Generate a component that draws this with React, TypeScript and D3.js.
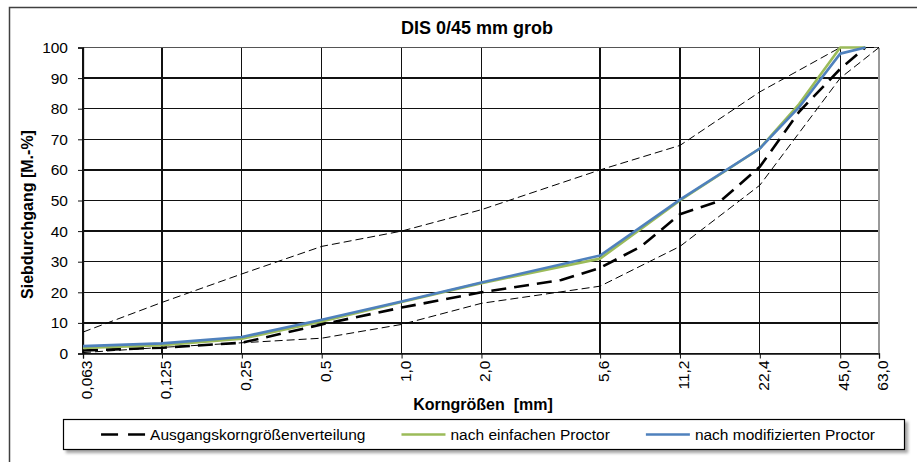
import React, { useEffect, useRef } from 'react';
import * as d3 from 'd3';

// sieve sizes [mm]
const sieves = [0.063, 0.125, 0.25, 0.5, 1, 2, 4, 5.6, 8, 11.2, 16, 22.4, 31.5, 45, 56, 63];
const xTickValues = [0.063, 0.125, 0.25, 0.5, 1, 2, 5.6, 11.2, 22.4, 45, 63];
const xTickLabels = ['0,063', '0,125', '0,25', '0,5', '1,0', '2,0', '5,6', '11,2', '22,4', '45,0', '63,0'];
const yTickValues = [0, 10, 20, 30, 40, 50, 60, 70, 80, 90, 100];

// passing [M.-%], null where the series has no value
const ausgang = [1, 1.9, 3.5, 9.5, 15, 20, 24, 28, 35, 45.5, 50, 61, 79, 93, 100, null];
const einfach = [1.8, 2.7, 4.8, 10.5, 16.8, 23, null, 31, null, 50, null, 67, 81.5, 100, 100, null];
const modifiziert = [2.4, 3.3, 5.4, 11, 17, 23.2, null, 32, null, 50.3, null, 67, 80.5, 98, 100, null];
const upperLimit = [7, 16.7, 26, 35, 40, 47, null, 60, null, 68, null, 85.5, null, 100, null, 100];
const lowerLimit = [0.3, 2, 3.5, 5, 9.5, 16.4, null, 22, null, 35, null, 55, null, 90, null, 100];

const legendNames = ['Ausgangskorngrößenverteilung', 'nach einfachen Proctor', 'nach modifizierten Proctor'];

const App: React.FC = () => {
  const svgRef = useRef<SVGSVGElement | null>(null);
  const width = 917;
  const height = 462;

  useEffect(() => {
    if (!svgRef.current) return;
    const svg = d3.select(svgRef.current);
    svg.selectAll('*').remove();

    const font = 'Liberation Sans, Arial, sans-serif';
    const plot = { left: 83, right: 879, top: 47.5, bottom: 353.5 };

    const x = d3.scaleLog().domain([0.063, 63]).range([plot.left, plot.right]);
    const y = d3.scaleLinear().domain([0, 100]).range([plot.bottom, plot.top]);

    svg.append('rect').attr('width', width).attr('height', height).attr('fill', '#fff');

    // outer chart frame (cut off at right and bottom)
    svg.append('rect')
      .attr('x', 9.5).attr('y', 7.5)
      .attr('width', 930).attr('height', 480)
      .attr('fill', 'none').attr('stroke', '#404040').attr('stroke-width', 1.5);

    // title
    svg.append('text')
      .attr('x', 477).attr('y', 34)
      .attr('text-anchor', 'middle')
      .style('font-family', font).style('font-size', '18px').style('font-weight', 'bold')
      .text('DIS 0/45 mm grob');

    // grid
    const grid = svg.append('g').attr('shape-rendering', 'crispEdges');
    grid.selectAll('.hgrid')
      .data(yTickValues)
      .enter()
      .append('line')
      .attr('x1', plot.left).attr('x2', plot.right)
      .attr('y1', d => y(d)).attr('y2', d => y(d))
      .attr('stroke', d => (d === 100 ? '#555' : '#111')).attr('stroke-width', 1.3);
    grid.selectAll('.vgrid')
      .data(xTickValues)
      .enter()
      .append('line')
      .attr('x1', d => x(d)).attr('x2', d => x(d))
      .attr('y1', plot.top).attr('y2', plot.bottom)
      .attr('stroke', d => (d === 63 ? '#999' : '#111')).attr('stroke-width', d => (d === 63 ? 1.6 : 1.3));

    // axes with ticks
    const yAxis = svg.append('g')
      .attr('transform', `translate(${plot.left},0)`)
      .call(d3.axisLeft(y).tickValues(yTickValues).tickSize(5).tickPadding(10));
    yAxis.select('.domain').attr('stroke', '#111').attr('stroke-width', 1.3);
    yAxis.selectAll('line').attr('stroke', '#111');
    yAxis.selectAll('text')
      .style('font-family', font).style('font-size', '15.5px').attr('fill', '#000');

    const xAxis = svg.append('g')
      .attr('transform', `translate(0,${plot.bottom})`)
      .call(d3.axisBottom(x).tickValues(xTickValues).tickSize(5)
        .tickFormat((d, i) => xTickLabels[i]));
    xAxis.select('.domain').attr('stroke', '#111').attr('stroke-width', 1.3);
    xAxis.selectAll('line').attr('stroke', '#111');
    xAxis.selectAll('text')
      .attr('transform', 'rotate(-90)')
      .attr('x', -7).attr('y', 3).attr('dy', '0.35em')
      .attr('dx', 0)
      .style('text-anchor', 'end')
      .style('font-family', font).style('font-size', '15.5px').attr('fill', '#000');

    // axis titles
    svg.append('text')
      .attr('transform', `translate(33,${(plot.top + plot.bottom) / 2 + 14}) rotate(-90)`)
      .attr('text-anchor', 'middle')
      .style('font-family', font).style('font-size', '16px').style('font-weight', 'bold')
      .text('Siebdurchgang [M.-%]');
    svg.append('text')
      .attr('x', 483).attr('y', 410)
      .attr('text-anchor', 'middle')
      .attr('xml:space', 'preserve')
      .style('font-family', font).style('font-size', '16px').style('font-weight', 'bold')
      .text('Korngrößen  [mm]');

    // series
    const toPoints = (vals: (number | null)[]) =>
      sieves.map((s, i) => [s, vals[i]] as [number, number | null]).filter(p => p[1] !== null) as [number, number][];
    const line = d3.line<[number, number]>().x(d => x(d[0])).y(d => y(d[1]));

    const series = [
      { vals: upperLimit, color: '#000', w: 1, dash: '8,4' },
      { vals: lowerLimit, color: '#000', w: 1, dash: '8,4' },
      { vals: ausgang, color: '#000', w: 2.6, dash: '15,8' },
      { vals: einfach, color: '#9BBB59', w: 2.6, dash: null },
      { vals: modifiziert, color: '#4F81BD', w: 2.6, dash: null },
    ];
    series.forEach(s => {
      svg.append('path')
        .datum(toPoints(s.vals))
        .attr('d', line)
        .attr('fill', 'none')
        .attr('stroke', s.color)
        .attr('stroke-width', s.w)
        .attr('stroke-dasharray', s.dash)
        .attr('stroke-linejoin', 'round');
    });

    // legend
    const defs = svg.append('defs');
    const filter = defs.append('filter').attr('id', 'shadow').attr('x', '-5%').attr('y', '-30%').attr('width', '110%').attr('height', '180%');
    filter.append('feDropShadow').attr('dx', 3).attr('dy', 3).attr('stdDeviation', 1.5).attr('flood-color', '#000').attr('flood-opacity', 0.35);

    const box = { x: 63.5, y: 419.5, w: 841, h: 30 };
    svg.append('rect')
      .attr('x', box.x).attr('y', box.y).attr('width', box.w).attr('height', box.h)
      .attr('fill', '#fff').attr('stroke', '#000').attr('stroke-width', 1.2)
      .attr('filter', 'url(#shadow)');

    const legendStyles = [
      { color: '#000', w: 2.6, dash: '17,10' },
      { color: '#9BBB59', w: 2.6, dash: null },
      { color: '#4F81BD', w: 2.6, dash: null },
    ];
    const lg = svg.append('g');
    const cy = box.y + box.h / 2;
    let cursor = 0;
    legendNames.forEach((name, i) => {
      const item = lg.append('g').attr('transform', `translate(${cursor},0)`);
      item.append('line')
        .attr('x1', 0).attr('x2', 44).attr('y1', cy).attr('y2', cy)
        .attr('stroke', legendStyles[i].color)
        .attr('stroke-width', legendStyles[i].w)
        .attr('stroke-dasharray', legendStyles[i].dash);
      const t = item.append('text')
        .attr('x', 49).attr('y', cy + 5.5)
        .style('font-family', font).style('font-size', '15.5px')
        .text(name);
      const tw = (t.node() as SVGTextElement).getComputedTextLength();
      cursor += 49 + tw + 36;
    });
    const total = cursor - 36;
    lg.attr('transform', `translate(${box.x + (box.w - total) / 2 + 4},0)`);
  }, []);

  return (
    <svg
      ref={svgRef}
      width={width}
      height={height}
      style={{ position: 'absolute', left: 0, top: 0 }}
    />
  );
};

export default App;
